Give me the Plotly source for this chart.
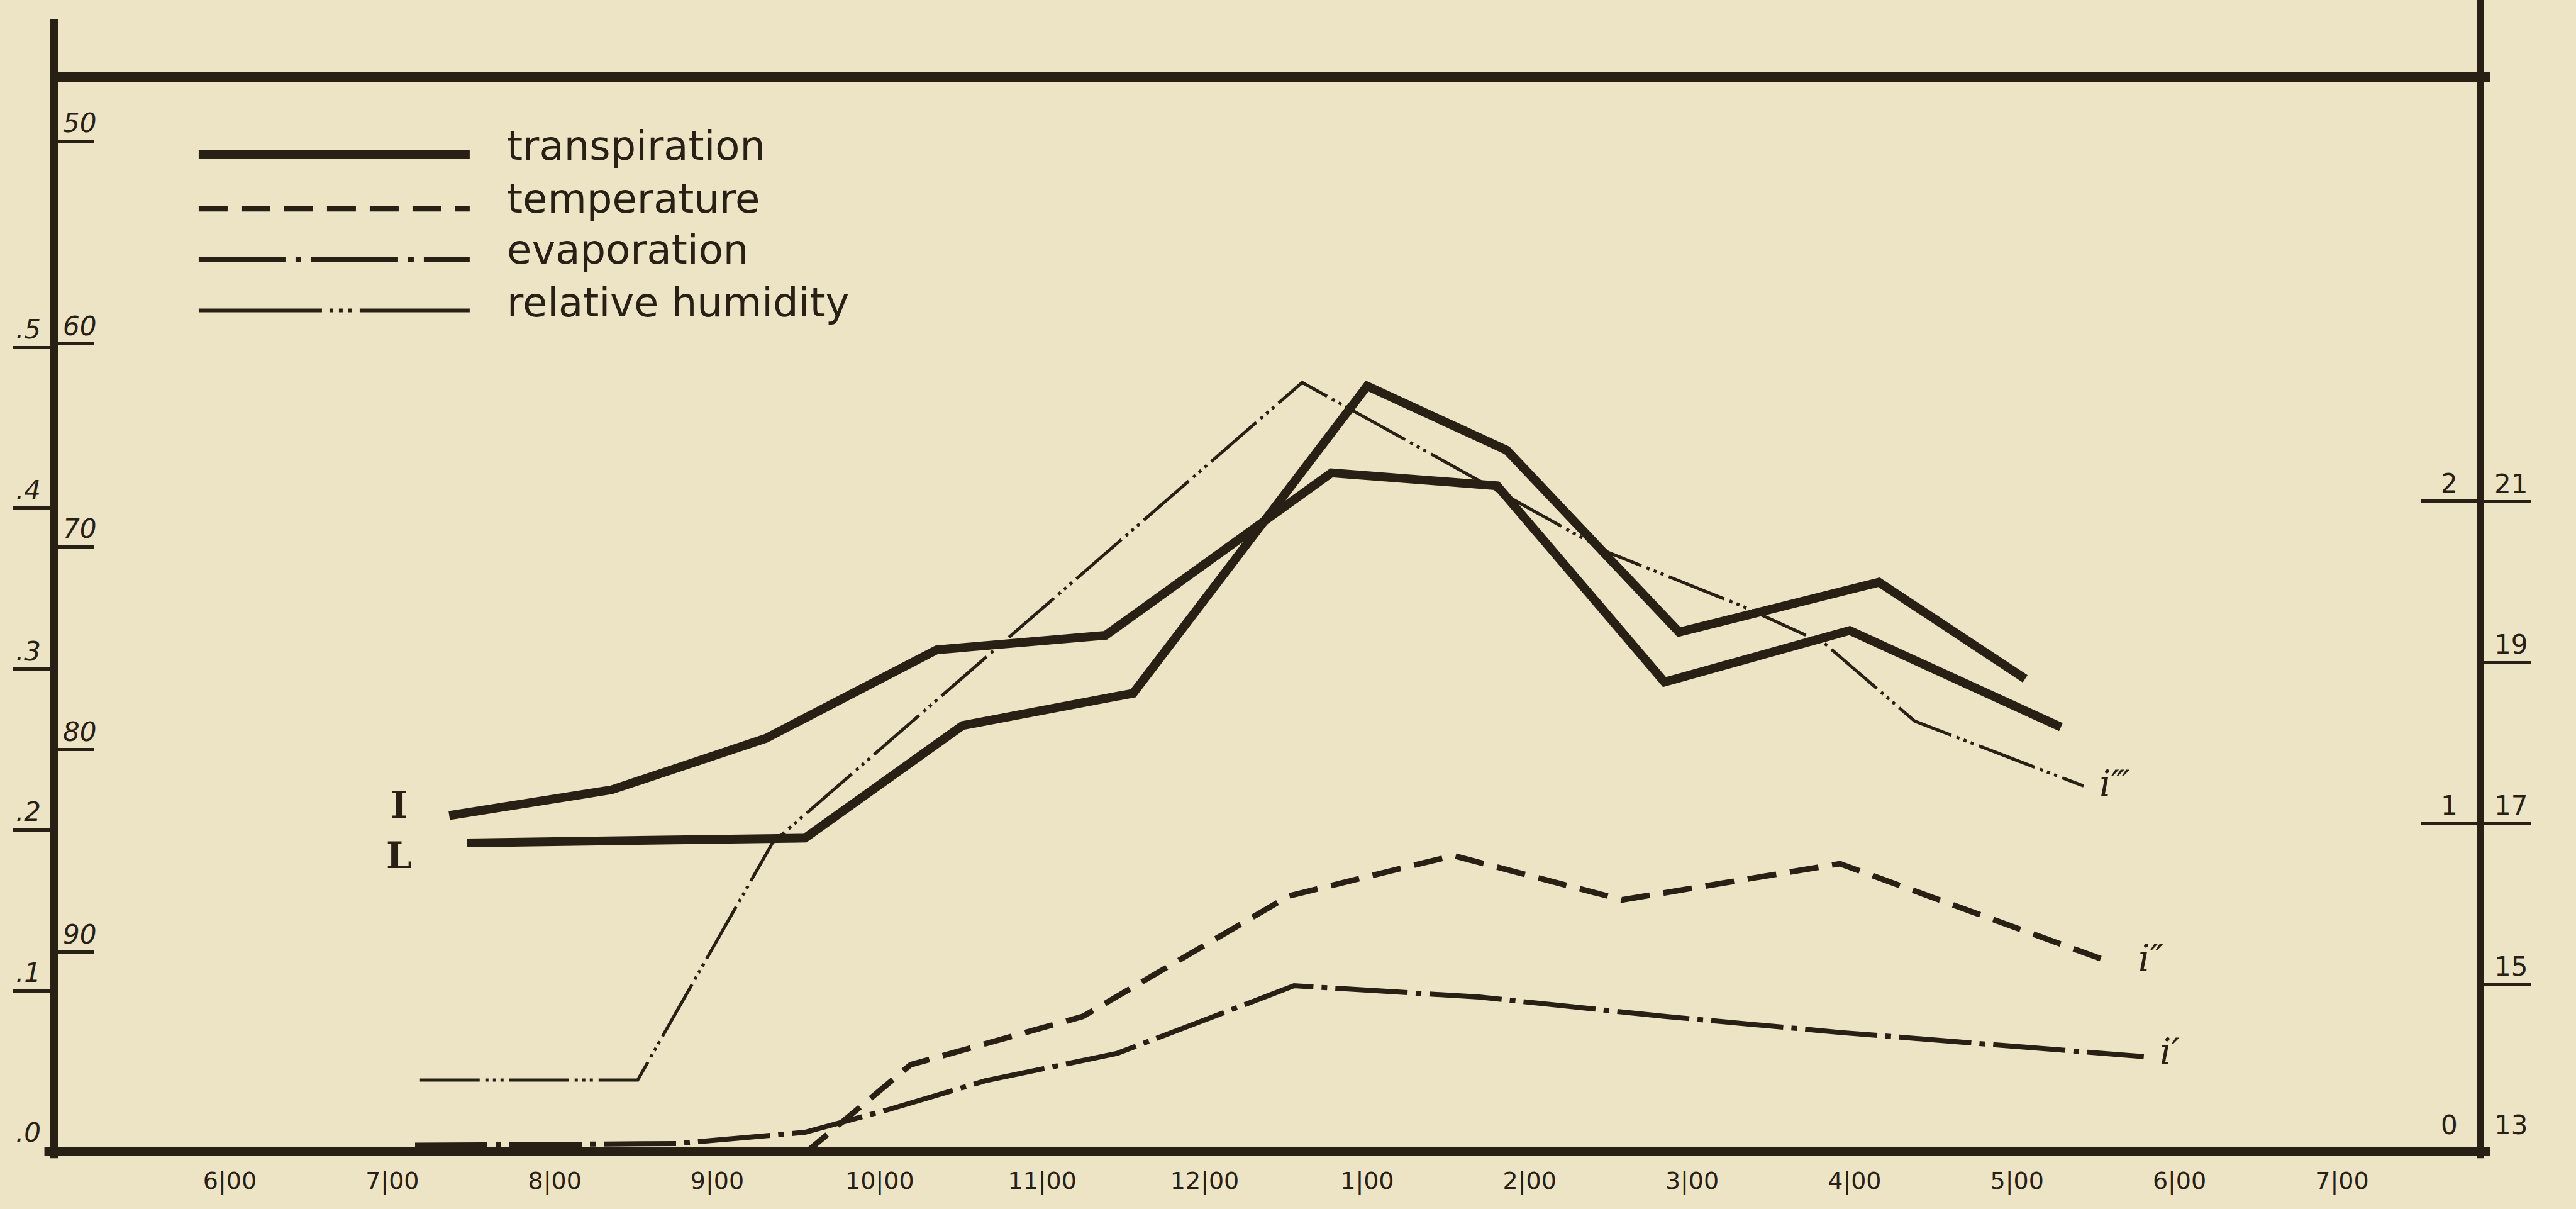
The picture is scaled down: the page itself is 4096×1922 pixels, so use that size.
import plotly.graph_objects as go

# ---- data -------------------------------------------------------------
# time of day in decimal hours (13 = 1 p.m.)
hour_vals = list(range(6, 20))
hour_text = ["6|00", "7|00", "8|00", "9|00", "10|00", "11|00", "12|00",
             "1|00", "2|00", "3|00", "4|00", "5|00", "6|00", "7|00"]

# transpiration, two plants (I and L), left outer scale
trans_I_hours = [7.35, 8.35, 9.30, 10.35, 11.39, 12.78, 13.80, 14.83, 15.97, 17.27]
trans_I = [0.209, 0.225, 0.257, 0.312, 0.321, 0.422, 0.414, 0.292, 0.324, 0.264]
trans_L_hours = [7.46, 9.54, 10.51, 11.56, 13.00, 13.86, 14.92, 16.15, 17.05]
trans_L = [0.192, 0.195, 0.265, 0.285, 0.476, 0.436, 0.323, 0.354, 0.294]

# temperature, right outer scale
temp_hours = [9.54, 10.19, 11.25, 12.52, 13.53, 14.57, 15.91, 17.54]
temperature = [12.9, 14.0, 14.6, 16.1, 16.6, 16.05, 16.5, 15.3]

# evaporation, right inner scale
evap_hours = [7.14, 8.75, 9.54, 10.05, 10.65, 11.46, 12.55, 13.69, 14.83, 15.91, 17.78]
evaporation = [0.0, 0.005, 0.04, 0.11, 0.20, 0.285, 0.495, 0.46, 0.40, 0.35, 0.275]

# relative humidity, left inner scale (inverted)
humid_hours = [7.17, 8.51, 9.34, 12.60, 14.49, 15.30, 15.82, 16.37, 17.41]
humidity = [96.3, 96.3, 84.6, 61.9, 70.3, 72.9, 74.8, 78.6, 81.8]

trans_ticks = [0.1, 0.2, 0.3, 0.4, 0.5]
trans_labels = [".1", ".2", ".3", ".4", ".5"]
humid_ticks = [50, 60, 70, 80, 90]
evap_ticks = [1, 2]
temp_ticks = [15, 17, 19, 21]

# ---- style ------------------------------------------------------------
INK = "rgb(40,32,20)"
PAPER = "rgb(237,228,198)"
HAND = "DejaVu Sans, Liberation Sans, sans-serif"
SERIF = "DejaVu Serif, Liberation Serif, serif"

SOLID_W = 14
TEMP_DASH = "46px,22px"
EVAP_DASH = "115px,13px,9px,13px"
HUM_DASH = "95px,9px,5px,7px,5px,7px,5px,9px"

# key samples use one long stroke per pattern, as in the hand-drawn key
KEY_EVAP_DASH = "138px,16px,9px,16px"
KEY_HUM_DASH = "196px,12px,6px,9px,6px,9px,6px,12px,400px"

fig = go.Figure()

def line(x, y, axis, width, dash="solid"):
    fig.add_trace(go.Scatter(
        x=x, y=y, yaxis=axis, mode="lines", showlegend=False, hoverinfo="skip",
        line=dict(color=INK, width=width, dash=dash)))

line(humid_hours, humidity, "y2", 5, HUM_DASH)
line(evap_hours, evaporation, "y3", 8, EVAP_DASH)
line(temp_hours, temperature, "y4", 9, TEMP_DASH)
line(trans_I_hours, trans_I, "y", SOLID_W)
line(trans_L_hours, trans_L, "y", SOLID_W)

common_y = dict(showgrid=False, zeroline=False, showline=False,
                showticklabels=False, tickmode="array", tickcolor=INK,
                tickwidth=5, automargin=False, fixedrange=True)

fig.update_layout(
    width=4096, height=1922,
    template="none",
    paper_bgcolor=PAPER, plot_bgcolor=PAPER,
    margin=dict(l=86, r=152, t=120, b=91, pad=0),
    xaxis=dict(range=[4.918, 19.852], showgrid=False, zeroline=False,
               showline=False, tickmode="array", tickvals=hour_vals,
               ticktext=hour_text, ticks="", ticklabelstandoff=20,
               tickfont=dict(family=HAND, size=38, color=INK),
               automargin=False, fixedrange=True),
    yaxis=dict(range=[0, 0.669], tickvals=trans_ticks, ticks="outside",
               ticklen=65, **common_y),
    yaxis2=dict(range=[99.838, 46.76], overlaying="y", side="left", anchor="x",
                tickvals=humid_ticks, ticks="inside", ticklen=64, **common_y),
    yaxis3=dict(range=[-0.0204, 3.3214], overlaying="y", side="right", anchor="x",
                tickvals=evap_ticks, ticks="inside", ticklen=94, **common_y),
    yaxis4=dict(range=[12.918, 26.30], overlaying="y", side="right", anchor="x",
                tickvals=temp_ticks, ticks="outside", ticklen=80, **common_y),
)

# ---- frame ------------------------------------------------------------
shapes = [
    dict(x0=0, x1=0, y0=-0.006, y1=1.052, width=12),      # left axis
    dict(x0=0, x1=1.004, y0=0.9985, y1=0.9985, width=15),  # top rule
    dict(x0=1, x1=1, y0=-0.006, y1=1.08, width=12),        # right axis
    dict(x0=-0.004, x1=1.004, y0=0, y1=0, width=14),       # base line
]
for s in shapes:
    fig.add_shape(type="line", xref="paper", yref="paper",
                  x0=s["x0"], x1=s["x1"], y0=s["y0"], y1=s["y1"],
                  line=dict(color=INK, width=s["width"]))

# ---- key --------------------------------------------------------------
key = [
    ("transpiration", "solid", SOLID_W, 0.9267, 0.9344),
    ("temperature", TEMP_DASH, 9, 0.8763, 0.8855),
    ("evaporation", KEY_EVAP_DASH, 8, 0.8290, 0.8382),
    ("relative humidity", KEY_HUM_DASH, 6, 0.7817, 0.7893),
]
for label, dash, w, ly, ty in key:
    fig.add_shape(type="line", xref="paper", yref="paper",
                  x0=0.0596, x1=0.1713, y0=ly, y1=ly,
                  line=dict(color=INK, width=w, dash=dash))
    fig.add_annotation(xref="paper", yref="paper", x=0.1862, y=ty,
                       xanchor="left", yanchor="middle", text=label,
                       showarrow=False,
                       font=dict(family=HAND, size=64, color=INK))

# ---- scale figures ----------------------------------------------------
def scale_label(text, x, yref, y, shift=2, italic=True):
    fig.add_annotation(xref="paper", yref=yref, x=x, y=y, text=text,
                       xanchor="center", yanchor="bottom", yshift=shift,
                       showarrow=False,
                       font=dict(family=HAND, size=42, color=INK,
                                 style="italic" if italic else "normal"))

for v, t in zip(trans_ticks, trans_labels):
    scale_label(t, -0.0105, "y", v)
scale_label(".0", -0.0105, "y", 0, shift=4)
for v in humid_ticks:
    scale_label(str(v), 0.0105, "y2", v)
for v in evap_ticks:
    scale_label(str(v), 0.9871, "y3", v, italic=False)
scale_label("0", 0.9871, "y3", 0, shift=6, italic=False)
for v in temp_ticks:
    scale_label(str(v), 1.0125, "y4", v, italic=False)
scale_label("13", 1.0125, "y4", 13, shift=6, italic=False)

# ---- curve marks ------------------------------------------------------
fig.add_annotation(x=7.04, y=0.2155, xref="x", yref="y", text="<b>I</b>",
                   showarrow=False, xanchor="center", yanchor="middle",
                   font=dict(family=SERIF, size=58, color=INK))
fig.add_annotation(x=7.04, y=0.184, xref="x", yref="y", text="<b>L</b>",
                   showarrow=False, xanchor="center", yanchor="middle",
                   font=dict(family=SERIF, size=58, color=INK))

end_marks = [
    ("i\u2034", 17.50, "y2", 81.7),
    ("i\u2033", 17.74, "y4", 15.33),
    ("i\u2032", 17.87, "y3", 0.29),
]
for text, hx, yref, yv in end_marks:
    fig.add_annotation(x=hx, y=yv, xref="x", yref=yref, text=text,
                       showarrow=False, xanchor="left", yanchor="middle",
                       font=dict(family=SERIF, size=58, color=INK,
                                 style="italic"))

fig.write_html("out.html")
